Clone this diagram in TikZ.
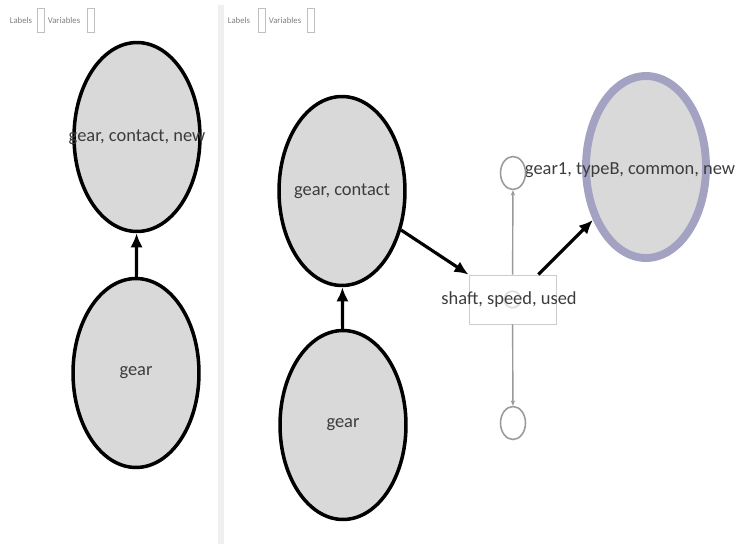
\documentclass[tikz,border=0pt]{standalone}
\usepackage{fontspec}
\setmainfont{Carlito}
\definecolor{nodegray}{HTML}{D9D9D9}
\definecolor{textgray}{HTML}{3C3C3C}
\definecolor{ringlav}{HTML}{A4A2C2}
\definecolor{linegray}{HTML}{9A9A9A}
\usetikzlibrary{shapes.geometric, arrows.meta, positioning}

\begin{document}
\begin{tikzpicture}[x=0.02cm, y=-0.02cm,
        concept/.style={ellipse, draw=black, line width=2pt, fill=nodegray,
                        minimum width=2.52cm, minimum height=3.78cm, inner sep=0pt,
                        label={[font=\fontsize{10.5}{12}\selectfont, text=textgray]center:#1}},
        target/.style={ellipse, draw=ringlav, line width=4.5pt, fill=nodegray,
                       minimum width=2.4cm, minimum height=3.64cm, inner sep=0pt},
        port/.style={ellipse, draw=linegray, line width=0.9pt, fill=white,
                     minimum width=0.5cm, minimum height=0.66cm, inner sep=0pt},
        joinbox/.style={draw=gray!40, line width=0.5pt, fill=white,
                        minimum width=1.74cm, minimum height=0.98cm, inner sep=0pt},
        nodetext/.style={font=\fontsize{10.5}{12}\selectfont, text=textgray, inner sep=0pt},
        tinytext/.style={font=\fontsize{5}{6}\selectfont, text=gray, inner sep=0pt},
        cbox/.style={draw=gray!50, line width=0.5pt, minimum width=0.15cm,
                     minimum height=0.48cm, inner sep=0pt},
        arr/.style={-{Latex[length=8pt,width=7pt]}, line width=1.8pt, black},
        tie/.style={-{Stealth[length=3pt,width=2.5pt]}, linegray, line width=0.8pt}
      ]
        \useasboundingbox (0,0) rectangle (754,544);
        \fill[gray!12] (218,5) rectangle (224,544);

        \node[tinytext] (lab1) at (21,20) {Labels};
        \node[cbox] (cb1) at (41,20) {};
        \node[tinytext] (var1) at (64,20) {Variables};
        \node[cbox] (cb2) at (91,20) {};
        \node[tinytext] (lab2) at (239,20) {Labels};
        \node[cbox] (cb3) at (262,20) {};
        \node[tinytext] (var2) at (285,20) {Variables};
        \node[cbox] (cb4) at (311,20) {};

        \node[concept={gear, contact, new}] (lgcn) at (137,137) {};
        \node[concept=gear] (lgear) at (136,373) {};
        \node[concept={gear, contact}] (rgc) at (342,191) {};
        \node[concept=gear] (rgear) at (343,425) {};

        \node[target] (gtb) at (646,167) {};
        \node[nodetext] (gtbtext) at (630,170) {gear1, typeB, common, new};

        \node[port] (ptop) at (513,173) {};
        \node[port] (pbot) at (513,423) {};
        \node[joinbox] (shaft) at (512.5,299.5) {};
        \node[circle, draw=gray!25, line width=1pt, minimum size=0.3cm] (hub) at (shaft) {};
        \node[nodetext] (shafttext) at (509,300) {shaft, speed, used};

        \draw[arr] (lgear) -- (lgcn);
        \draw[arr] (rgear) -- (rgc);
        \draw[arr] (rgc) -- (shaft.north west);
        \draw[arr] (shaft.44) -- (gtb);
        \draw[tie] (shaft) -- (ptop);
        \draw[tie] (shaft) -- (pbot);
      \end{tikzpicture}
\end{document}
